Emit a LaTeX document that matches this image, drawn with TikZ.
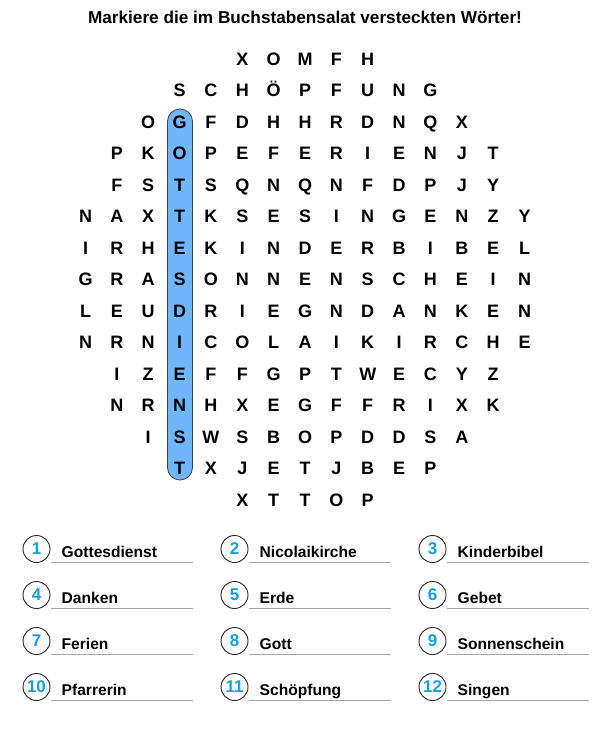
\documentclass[tikz,border=0pt]{standalone}
\usepackage{fontspec}
\setmainfont{Liberation Sans}
\usetikzlibrary{positioning}
\definecolor{markblue}{RGB}{112,182,252}
\definecolor{numblue}{RGB}{22,160,224}
\tikzset{
title/.style={font=\fontsize{17.2}{17.2}\selectfont\bfseries, inner sep=0pt},
letter/.style={font=\fontsize{18}{18}\selectfont\bfseries, inner sep=0pt, text height=12.9pt, text depth=0pt},
markbox/.style={draw=black!75, fill=markblue, line width=0.8pt, rounded corners=12.4pt},
numcirc/.style={circle, draw=black!85, line width=0.9pt, minimum size=27pt, inner sep=0pt, text=numblue, font=\fontsize{17}{17}\selectfont\bfseries},
word/.style={font=\fontsize{15.6}{15.6}\selectfont\bfseries, inner sep=0pt, anchor=base west},
uline/.style={draw=black!35, line width=1.4pt}
}

\begin{document}
\begin{tikzpicture}[x=1pt,y=-1pt]
\useasboundingbox (0,0) rectangle (600,741);
\node[title,anchor=base] (title) at (305,24) {Markiere die im Buchstabensalat versteckten Wörter!};

% marked word
\draw[markbox] (167.5,109) rectangle (192.5,480);

% letter grid
\foreach \r/\s/\row in {
 0/5/{X,O,M,F,H},
 1/3/{S,C,H,Ö,P,F,U,N,G},
 2/2/{O,G,F,D,H,H,R,D,N,Q,X},
 3/1/{P,K,O,P,E,F,E,R,I,E,N,J,T},
 4/1/{F,S,T,S,Q,N,Q,N,F,D,P,J,Y},
 5/0/{N,A,X,T,K,S,E,S,I,N,G,E,N,Z,Y},
 6/0/{I,R,H,E,K,I,N,D,E,R,B,I,B,E,L},
 7/0/{G,R,A,S,O,N,N,E,N,S,C,H,E,I,N},
 8/0/{L,E,U,D,R,I,E,G,N,D,A,N,K,E,N},
 9/0/{N,R,N,I,C,O,L,A,I,K,I,R,C,H,E},
 10/1/{I,Z,E,F,F,G,P,T,W,E,C,Y,Z},
 11/1/{N,R,N,H,X,E,G,F,F,R,I,X,K},
 12/2/{I,S,W,S,B,O,P,D,D,S,A},
 13/3/{T,X,J,E,T,J,B,E,P},
 14/5/{X,T,T,O,P}}{
  \foreach \ch [count=\c from \s] in \row
    \node[letter] (g-\r-\c) at (85.5+31.36*\c,59+31.5*\r) {\ch};
}

% word list
\foreach \w [count=\i from 0] in {Gottesdienst,Nicolaikirche,Kinderbibel,Danken,Erde,Gebet,Ferien,Gott,Sonnenschein,Pfarrerin,Schöpfung,Singen}{
  \pgfmathtruncatemacro\n{\i+1}
  \pgfmathsetmacro\cx{36.5+198*mod(\i,3)}
  \pgfmathsetmacro\cy{549+46*floor(\i/3)}
  \node[numcirc] (num\n) at (\cx,\cy) {\n};
  \node[word] (word\n) at (\cx+25,\cy+8.5) {\w};
  \coordinate (ul\n) at (\cx+14,\cy+13.5);
  \draw[uline] (ul\n) -- ++(142.5,0);
}
\end{tikzpicture}
\end{document}
